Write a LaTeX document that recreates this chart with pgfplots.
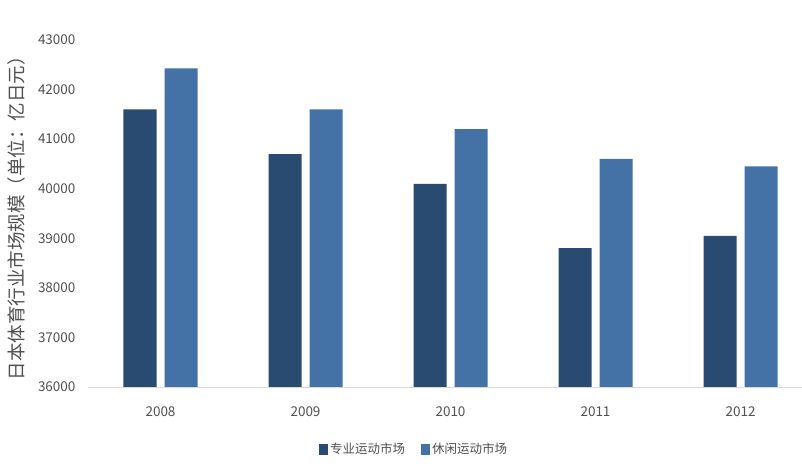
\documentclass[border=0pt]{standalone}
\usepackage{fontspec}
\setmainfont{Noto Sans CJK SC}
\usepackage{pgfplots}
\pgfplotsset{compat=1.18}
\usetikzlibrary{calc}
\definecolor{darkbar}{HTML}{294A71}
\definecolor{lightbar}{HTML}{4471A6}
\definecolor{txtgray}{HTML}{505050}
\definecolor{axgray}{HTML}{D9D9D9}
\begin{document}
\begin{tikzpicture}
\begin{axis}[
  name=ax,
  scale only axis,
  width=725pt, height=347pt,
  xmin=-0.5, xmax=4.5,
  ymin=36000, ymax=43000,
  ytick={36000,37000,...,43000},
  xtick={0,1,2,3,4},
  xticklabels={2008,2009,2010,2011,2012},
  /pgf/number format/assume math mode=true,
  /pgf/number format/1000 sep={},
  scaled y ticks=false,
  axis line style={draw=none},
  axis x line*=bottom,
  axis y line*=left,
  major tick length=0pt,
  tick style={draw=none},
  ticklabel style={font=\fontsize{13.5}{15}\selectfont, text=txtgray},
  yticklabel style={xshift=-9pt},
  xticklabel style={yshift=-16pt},
  ylabel={日本体育行业市场规模（单位：亿日元）},
  ylabel style={font=\fontsize{18.5}{20}\selectfont, text=txtgray, yshift=6pt},
  ybar,
  bar width=33pt,
  legend style={at={(326pt,-62pt)}, anchor=center, draw=none, legend columns=2,
    font=\fontsize{12.5}{14}\selectfont, text=txtgray,
    /tikz/every even column/.append style={column sep=14pt},
    inner sep=0pt},
  legend image code/.code={\fill (0pt,-5.5pt) rectangle (9pt,5.5pt);},
  clip=false,
]
\addplot[fill=darkbar, draw=none, bar shift=-20.5pt] coordinates {(0,41600) (1,40700) (2,40100) (3,38800) (4,39050)};
\addplot[fill=lightbar, draw=none, bar shift=20.5pt] coordinates {(0,42430) (1,41600) (2,41200) (3,40600) (4,40450)};
\legend{专业运动市场,休闲运动市场}
\draw[axgray, line width=1pt] (rel axis cs:0,0) -- (rel axis cs:1,0);
\end{axis}
\pgfresetboundingbox
\path[use as bounding box] ($(ax.south west)+(-88pt,-85pt)$) rectangle ($(ax.north east)+(-11pt,40pt)$);
\end{tikzpicture}
\end{document}
